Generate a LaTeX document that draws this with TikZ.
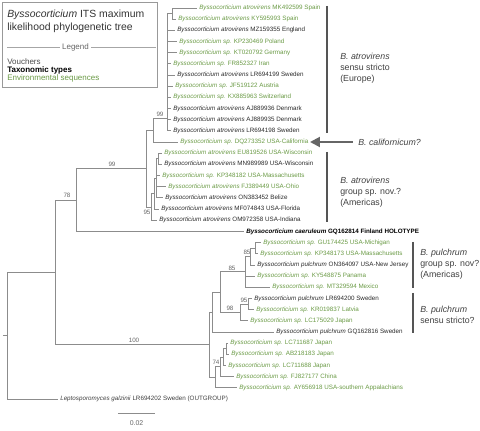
\documentclass[tikz,border=0pt]{standalone}
\usepackage{fontspec}
\setmainfont{Liberation Sans}
\usetikzlibrary{arrows.meta}
\definecolor{envgreen}{HTML}{6A9A45}
\definecolor{vouch}{HTML}{2A2A2A}
\definecolor{brgray}{HTML}{8C8C8C}
\definecolor{bargray}{HTML}{555555}
\begin{document}
\begin{tikzpicture}[x=0.75pt,y=-0.75pt,
  br/.style={draw=brgray,line width=0.6pt},
  lf/.style={anchor=west,inner sep=0pt,font=\fontsize{4.7}{5.5}\selectfont},
  lfg/.style={lf,text=envgreen},
  lfv/.style={lf,text=vouch},
  bsl/.style={inner sep=0pt,text=black!60,font=\fontsize{4.7}{5}\selectfont},
  cladebar/.style={draw=bargray,line width=1.9pt},
  cladetxt/.style={anchor=west,inner sep=0pt,align=left,text=black!75,font=\fontsize{6.6}{8.3}\selectfont},
  legtxt/.style={anchor=west,inner sep=0pt,font=\fontsize{6}{7}\selectfont},
  titletxt/.style={anchor=west,inner sep=0pt,text=black!80,font=\fontsize{7.8}{9}\selectfont},
]
\useasboundingbox (0,0) rectangle (480,431);

% ---------- legend box ----------
\draw[draw=black!40,line width=0.6pt] (2,2) rectangle (157,87);
\node[titletxt] (t1) at (7,15) {\textit{Byssocorticium} ITS maximum};
\node[titletxt] (t2) at (7,28) {likelihood phylogenetic tree};
\node[inner sep=0pt,text=black!60,font=\fontsize{6}{7}\selectfont] (leg) at (75.5,47) {Legend};
\coordinate (lg1) at (7,47); \coordinate (lg2) at (156,47);
\draw[draw=black!35,line width=0.5pt] (lg1) -- ([xshift=-1.5pt]leg.west);
\draw[draw=black!35,line width=0.5pt] ([xshift=1.5pt]leg.east) -- (lg2);
\node[legtxt,text=black!70] (lv) at (7,62) {Vouchers};
\node[legtxt,text=black] (lt) at (7,70) {\textbf{Taxonomic types}};
\node[legtxt,text=envgreen] (le) at (7,78) {Environmental sequences};

% ---------- leaves ----------
\node[lfg] (L1) at (199,8.0) {\textit{Byssocorticium atrovirens} MK492599 Spain};
\node[lfg] (L2) at (178,19.17) {\textit{Byssocorticium atrovirens} KY595993 Spain};
\node[lfv] (L3) at (177,30.34) {\textit{Byssocorticium atrovirens} MZ159355 England};
\node[lfg] (L4) at (179,41.51) {\textit{Byssocorticium sp.} KP230469 Poland};
\node[lfg] (L5) at (179,52.68) {\textit{Byssocorticium sp.} KT020792 Germany};
\node[lfg] (L6) at (173,63.85) {\textit{Byssocorticium sp.} FR852327 Iran};
\node[lfv] (L7) at (177,75.02) {\textit{Byssocorticium atrovirens} LR694199 Sweden};
\node[lfg] (L8) at (175,86.19) {\textit{Byssocorticium sp.} JF519122 Austria};
\node[lfg] (L9) at (173,97.36) {\textit{Byssocorticium sp.} KX885963 Switzerland};
\node[lfv] (L10) at (173,108.53) {\textit{Byssocorticium atrovirens} AJ889936 Denmark};
\node[lfv] (L11) at (173,119.70) {\textit{Byssocorticium atrovirens} AJ889935 Denmark};
\node[lfv] (L12) at (173,130.87) {\textit{Byssocorticium atrovirens} LR694198 Sweden};
\node[lfg] (L13) at (180,142.04) {\textit{Byssocorticium sp.} DQ273352 USA-California};
\node[lfg] (L14) at (164,153.21) {\textit{Byssocorticium atrovirens} EU819526 USA-Wisconsin};
\node[lfv] (L15) at (164,164.38) {\textit{Byssocorticium atrovirens} MN989989 USA-Wisconsin};
\node[lfg] (L16) at (162,175.55) {\textit{Byssocorticium sp.} KP348182 USA-Massachusetts};
\node[lfg] (L17) at (168,186.72) {\textit{Byssocorticium atrovirens} FJ389449 USA-Ohio};
\node[lfv] (L18) at (165,197.89) {\textit{Byssocorticium atrovirens} ON383452 Belize};
\node[lfv] (L19) at (161,209.06) {\textit{Byssocorticium atrovirens} MF074843 USA-Florida};
\node[lfv] (L20) at (159,220.23) {\textit{Byssocorticium atrovirens} OM972358 USA-Indiana};
\node[lf,text=black] (L21) at (246,231.40) {\textbf{\textit{Byssocorticium caeruleum} GQ162814 Finland HOLOTYPE}};
\node[lfg] (L22) at (263,242.57) {\textit{Byssocorticium sp.} GU174425 USA-Michigan};
\node[lfg] (L23) at (260,253.74) {\textit{Byssocorticium sp.} KP348173 USA-Massachusetts};
\node[lfv] (L24) at (257,264.91) {\textit{Byssocorticium pulchrum} ON364097 USA-New Jersey};
\node[lfg] (L25) at (257,276.08) {\textit{Byssocorticium sp.} KY548875 Panama};
\node[lfg] (L26) at (272,287.25) {\textit{Byssocorticium sp.} MT329594 Mexico};
\node[lfv] (L27) at (254,298.42) {\textit{Byssocorticium pulchrum} LR694200 Sweden};
\node[lfg] (L28) at (256,309.59) {\textit{Byssocorticium sp.} KR019837 Latvia};
\node[lfg] (L29) at (250,320.76) {\textit{Byssocorticium sp.} LC175029 Japan};
\node[lfv] (L30) at (276,331.93) {\textit{Byssocorticium pulchrum} GQ162816 Sweden};
\node[lfg] (L31) at (230,343.10) {\textit{Byssocorticium sp.} LC711687 Japan};
\node[lfg] (L32) at (231,354.27) {\textit{Byssocorticium sp.} AB218183 Japan};
\node[lfg] (L33) at (228,365.44) {\textit{Byssocorticium sp.} LC711688 Japan};
\node[lfg] (L34) at (236,376.61) {\textit{Byssocorticium sp.} FJ827177 China};
\node[lfg] (L35) at (239,387.78) {\textit{Byssocorticium sp.} AY656918 USA-southern Appalachians};
\node[lf,text=black!75] (L36) at (60,398.95) {\textit{Leptosporomyces galzinii} LR694202 Sweden (OUTGROUP)};

% ---------- internal nodes ----------
\coordinate (E0) at (172,13.6);
\coordinate (CE) at (167,118);
\coordinate (A) at (153,130.0);
\coordinate (P) at (158,158.8);
\coordinate (C) at (156,178.3);
\coordinate (D) at (154,193.7);
\coordinate (B) at (151.5,207.0);
\coordinate (N99) at (146,168.5);
\coordinate (N78) at (76,199.95);
\coordinate (Q) at (255,248.16);
\coordinate (R) at (250,256.5);
\coordinate (T) at (245,271.9);
\coordinate (V1) at (248,304.0);
\coordinate (V2) at (240,312.4);
\coordinate (W) at (220,292.1);
\coordinate (U) at (212,312.0);
\coordinate (J1) at (226,348.7);
\coordinate (J2) at (223,357.1);
\coordinate (J2b) at (220,366.8);
\coordinate (J3) at (215,377.3);
\coordinate (P100) at (209,344.6);
\coordinate (N55) at (55,272.3);
\coordinate (Root) at (7,335.6);
\coordinate (RootStub) at (3,335.6);

% ---------- branches ----------
\foreach \p/\c in {E0/L1,E0/L2,CE/L3,CE/L4,CE/L5,CE/L6,CE/L7,CE/L8,CE/L9,CE/L10,CE/L11,CE/L12,
  A/L13,P/L14,P/L15,C/L16,C/L17,C/L18,D/L19,B/L20,N78/L21,Q/L22,Q/L23,R/L24,T/L25,T/L26,
  V1/L27,V1/L28,V2/L29,U/L30,J1/L31,J1/L32,J2/L33,J2b/L34,J3/L35,Root/L36}
  \draw[br] (\p) |- ([xshift=-1.5pt]\c.west);
\foreach \p/\c in {CE/E0,A/CE,C/P,D/C,B/D,N99/A,N99/B,N78/N99,R/Q,T/R,V2/V1,W/T,W/V2,U/W,
  J2/J1,J2b/J2,J3/J2b,P100/U,P100/J3,N55/N78,N55/P100,Root/N55}
  \draw[br] (\p) |- (\c);
\draw[br] (RootStub) -- (Root);

% ---------- support values ----------
\node[bsl] (s1) at (160,114) {99};
\node[bsl] (s2) at (112,164) {99};
\node[bsl] (s3) at (147,212) {95};
\node[bsl] (s4) at (67,195) {78};
\node[bsl] (s5) at (134,340) {100};
\node[bsl] (s6) at (247,252) {85};
\node[bsl] (s7) at (232,268) {85};
\node[bsl] (s8) at (244,300) {95};
\node[bsl] (s9) at (230,308) {98};
\node[bsl] (s10) at (216,362) {74};

% ---------- scale bar ----------
\coordinate (sb1) at (118,413); \coordinate (sb2) at (155,413);
\draw[br] (sb1) -- (sb2);
\node[bsl,font=\fontsize{5.2}{6}\selectfont] (sbl) at (136.5,423) {0.02};

% ---------- clade bars and labels ----------
\coordinate (cb1a) at (327,6); \coordinate (cb1b) at (327,133);
\draw[cladebar] (cb1a) -- (cb1b);
\node[cladetxt] (c1) at (340,68.5) {\textit{B. atrovirens}\\sensu stricto\\(Europe)};

\coordinate (cb2a) at (327,152); \coordinate (cb2b) at (327,222);
\draw[cladebar] (cb2a) -- (cb2b);
\node[cladetxt] (c2) at (340,192) {\textit{B. atrovirens}\\group sp. nov.?\\(Americas)};

\coordinate (cb3a) at (413,242); \coordinate (cb3b) at (413,288);
\draw[cladebar] (cb3a) -- (cb3b);
\node[cladetxt] (c3) at (420,264.5) {\textit{B. pulchrum}\\group sp. nov?\\(Americas)};

\coordinate (cb4a) at (413,293); \coordinate (cb4b) at (413,333);
\draw[cladebar] (cb4a) -- (cb4b);
\node[cladetxt] (c4) at (420,314.5) {\textit{B. pulchrum}\\sensu stricto?};

\node[cladetxt] (calif) at (358,142) {\textit{B. californicum?}};
\coordinate (atip) at (310,142);
\draw[draw=black!60,line width=1.5pt,-{Triangle[length=7.5pt,width=7.5pt]}] ([xshift=-3.75pt]calif.west) -- (atip);

\end{tikzpicture}
\end{document}
